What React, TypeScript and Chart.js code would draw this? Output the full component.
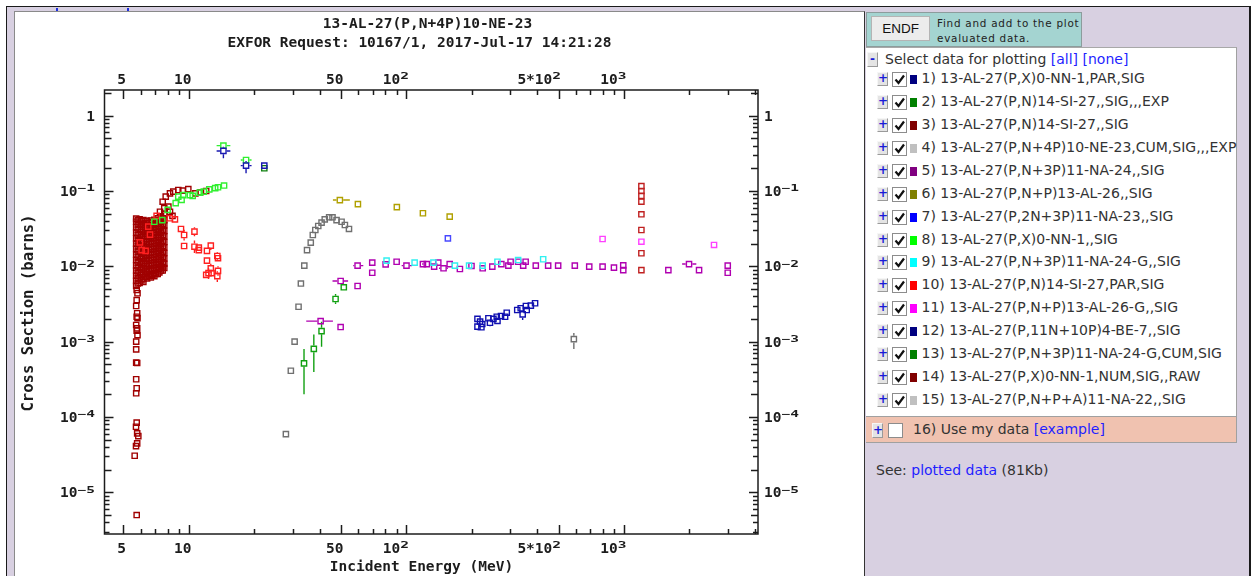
import React, { useEffect, useRef } from "react";
import { Chart, registerables } from "chart.js";
Chart.register(...registerables);

type P = (number | null)[];

// ---- axis ranges & ticks ----
const X_MIN = 4.09;
const X_MAX = 4130;
const Y_MIN = 2.79e-6;
const Y_MAX = 2.19;
const xTickValues = [5, 10, 50, 100, 500, 1000];
const xTickBase = ["5", "10", "50", "10", "5*10", "10"];
const xTickSup = ["", "", "", "2", "2", "3"];
const yTickValues = [1, 0.1, 0.01, 0.001, 1e-4, 1e-5];
const yTickBase = ["1", "10", "10", "10", "10", "10"];
const yTickSup = ["", "\u22121", "\u22122", "\u22123", "\u22124", "\u22125"];

const titleLine1 = "13-AL-27(P,N+4P)10-NE-23";
const titleLine2 = "EXFOR Request: 10167/1, 2017-Jul-17 14:21:28";
const xTitle = "Incident Energy (MeV)";
const yTitle = "Cross Section (barns)";

// ---- legend ----
const seriesNames = [
  "1) 13-AL-27(P,X)0-NN-1,PAR,SIG",
  "2) 13-AL-27(P,N)14-SI-27,,SIG,,,EXP",
  "3) 13-AL-27(P,N)14-SI-27,,SIG",
  "4) 13-AL-27(P,N+4P)10-NE-23,CUM,SIG,,,EXP",
  "5) 13-AL-27(P,N+3P)11-NA-24,,SIG",
  "6) 13-AL-27(P,N+P)13-AL-26,,SIG",
  "7) 13-AL-27(P,2N+3P)11-NA-23,,SIG",
  "8) 13-AL-27(P,X)0-NN-1,,SIG",
  "9) 13-AL-27(P,N+3P)11-NA-24-G,,SIG",
  "10) 13-AL-27(P,N)14-SI-27,PAR,SIG",
  "11) 13-AL-27(P,N+P)13-AL-26-G,,SIG",
  "12) 13-AL-27(P,11N+10P)4-BE-7,,SIG",
  "13) 13-AL-27(P,N+3P)11-NA-24-G,CUM,SIG",
  "14) 13-AL-27(P,X)0-NN-1,NUM,SIG,,RAW",
  "15) 13-AL-27(P,N+P+A)11-NA-22,,SIG",
];
const legendColors = [
  "#000080", "#008000", "#800000", "#c0c0c0", "#800080", "#808000", "#0000ff", "#00ff00",
  "#00ffff", "#ff0000", "#ff00ff", "#000080", "#008000", "#800000", "#c0c0c0",
];
const plotColors = [
  "#1818b0", "#108010", "#a00000", "#707070", "#b000b0", "#b0a000", "#4848ff", "#30f030",
  "#30f0f0", "#ff2020", "#ff40ff", "#1010b0", "#10a010", "#c02020", "#707070",
];
const drawOrder = [2, 3, 20, 5, 6, 5, 5, 4, 4, 8, 5, 5, 5, 6, 6];

// ---- data: [E (MeV), sigma (b), sigLo, sigHi, Elo, Ehi] ----
const s1: P[] = [
  [14.4, 0.34, 0.272, 0.387, 13.4, 15.5],
  [18.3, 0.217, 0.172, 0.25, 17.3, 19.4],
  [22.2, 0.217],
];
const s2: P[] = [[22.2, 0.2]];
const s3Cluster: P[] = [
  [5.72, 0.043], [5.72, 0.039], [5.72, 0.033], [5.72, 0.028], [5.72, 0.0235], [5.72, 0.02], [5.72, 0.017],
  [5.72, 0.0143], [5.72, 0.0121], [5.72, 0.0103], [5.72, 0.0088], [5.72, 0.0075], [5.72, 0.0064], [5.72, 0.0055],
  [5.82, 0.041], [5.82, 0.036], [5.82, 0.0305], [5.82, 0.0258], [5.82, 0.0217], [5.82, 0.0184], [5.82, 0.0156],
  [5.82, 0.0132], [5.82, 0.0112], [5.82, 0.0095], [5.82, 0.0081], [5.82, 0.0069], [5.82, 0.0059],
  [5.93, 0.042], [5.93, 0.037], [5.93, 0.0315], [5.93, 0.0265], [5.93, 0.0225], [5.93, 0.019], [5.93, 0.016],
  [5.93, 0.0136], [5.93, 0.0116], [5.93, 0.0098], [5.93, 0.0084], [5.93, 0.0071], [5.93, 0.006],
  [6.05, 0.0395], [6.05, 0.0335], [6.05, 0.0285], [6.05, 0.0242], [6.05, 0.0205], [6.05, 0.0174], [6.05, 0.0148],
  [6.05, 0.0125], [6.05, 0.0106], [6.05, 0.009], [6.05, 0.0076], [6.05, 0.0065],
  [6.17, 0.041], [6.17, 0.036], [6.17, 0.03], [6.17, 0.0255], [6.17, 0.0215], [6.17, 0.0183], [6.17, 0.0155],
  [6.17, 0.0131], [6.17, 0.0111], [6.17, 0.0094], [6.17, 0.008], [6.17, 0.0068], [6.17, 0.0062],
  [6.3, 0.0375], [6.3, 0.032], [6.3, 0.0272], [6.3, 0.023], [6.3, 0.0195], [6.3, 0.0166], [6.3, 0.014],
  [6.3, 0.0118], [6.3, 0.01], [6.3, 0.0085], [6.3, 0.0073],
  [6.42, 0.04], [6.42, 0.0345], [6.42, 0.029], [6.42, 0.0248], [6.42, 0.021], [6.42, 0.0177], [6.42, 0.015],
  [6.42, 0.0127], [6.42, 0.0107], [6.42, 0.0091], [6.42, 0.0078], [6.42, 0.0069],
  [6.55, 0.038], [6.55, 0.0322], [6.55, 0.0274], [6.55, 0.0231], [6.55, 0.0196], [6.55, 0.0166], [6.55, 0.0141],
  [6.55, 0.0119], [6.55, 0.0101], [6.55, 0.0086], [6.55, 0.0074],
  [6.68, 0.0405], [6.68, 0.035], [6.68, 0.0298], [6.68, 0.0252], [6.68, 0.0213], [6.68, 0.018], [6.68, 0.0153],
  [6.68, 0.0129], [6.68, 0.0109], [6.68, 0.0093], [6.68, 0.0079], [6.68, 0.0071],
  [6.8, 0.0385], [6.8, 0.0328], [6.8, 0.0278], [6.8, 0.0236], [6.8, 0.02], [6.8, 0.0169], [6.8, 0.0143],
  [6.8, 0.0121], [6.8, 0.0103], [6.8, 0.0088], [6.8, 0.0077],
  [6.93, 0.0415], [6.93, 0.036], [6.93, 0.0305], [6.93, 0.0258], [6.93, 0.0218], [6.93, 0.0184], [6.93, 0.0156],
  [6.93, 0.0132], [6.93, 0.0112], [6.93, 0.0095], [6.93, 0.0082], [6.93, 0.0074],
  [7.05, 0.039], [7.05, 0.0335], [7.05, 0.0283], [7.05, 0.024], [7.05, 0.0203], [7.05, 0.0172], [7.05, 0.0146],
  [7.05, 0.0124], [7.05, 0.0105], [7.05, 0.009], [7.05, 0.0079],
  [7.18, 0.0435], [7.18, 0.037], [7.18, 0.031], [7.18, 0.0262], [7.18, 0.0222], [7.18, 0.0188], [7.18, 0.0159],
  [7.18, 0.0135], [7.18, 0.0114], [7.18, 0.0097], [7.18, 0.0079],
  [7.31, 0.041], [7.31, 0.0345], [7.31, 0.029], [7.31, 0.0246], [7.31, 0.0209], [7.31, 0.0176], [7.31, 0.015],
  [7.31, 0.0127], [7.31, 0.0107], [7.31, 0.0093], [7.31, 0.0083],
  [7.44, 0.046], [7.44, 0.039], [7.44, 0.033], [7.44, 0.028], [7.44, 0.0236], [7.44, 0.02], [7.44, 0.0168],
  [7.44, 0.0142], [7.44, 0.012], [7.44, 0.0101], [7.44, 0.0088],
  [7.57, 0.0435], [7.57, 0.0365], [7.57, 0.0305], [7.57, 0.026], [7.57, 0.0218], [7.57, 0.0185], [7.57, 0.0157],
  [7.57, 0.0133], [7.57, 0.0112], [7.57, 0.0097], [7.57, 0.0088],
  [7.7, 0.049], [7.7, 0.041], [7.7, 0.035], [7.7, 0.0295], [7.7, 0.025], [7.7, 0.021], [7.7, 0.0178],
  [7.7, 0.015], [7.7, 0.0127], [7.7, 0.0108], [7.7, 0.0095],
];
const s3Column: P[] = [
  [5.75, 4.84e-3], [5.8, 4.38e-3], [5.75, 3.56e-3], [5.72, 2.97e-3], [5.78, 2.38e-3], [5.75, 2.14e-3],
  [5.8, 2.05e-3], [5.72, 1.66e-3], [5.78, 1.5e-3], [5.75, 1.4e-3], [5.8, 1.22e-3], [5.72, 1.0e-3],
  [5.72, 7.9e-4], [5.72, 5.25e-4], [5.78, 5.2e-4], [5.72, 3.16e-4], [5.75, 2.4e-4], [5.72, 2.06e-4],
  [5.75, 8.4e-5], [5.71, 7.4e-5], [5.78, 6.05e-5], [5.85, 5.57e-5], [5.78, 4.46e-5], [5.71, 4.1e-5],
  [5.63, 3.05e-5], [5.75, 4.98e-6],
];
const s3Chain: P[] = [
  [7.57, 0.072], [7.7, 0.059], [7.36, 0.053], [8.18, 0.053], [8.04, 0.062], [8.4, 0.0466],
  [7.82, 0.084], [8.18, 0.093], [8.47, 0.098], [8.93, 0.103], [9.36, 0.101], [9.93, 0.106],
  [10.7, 0.093], [11.3, 0.096], [12.0, 0.1],
];
const s4: P[] = [[588, 1.08e-3, 7.98e-4, 1.3e-3]];
const s5: P[] = [
  [40.3, 1.87e-3, null, null, 34.6, 45.9], [49.8, 1.56e-3], [49.8, 6.38e-3, null, null, 45.7, 53.9],
  [59.6, 5.47e-3], [59.6, 0.0102, null, null, 56.9, 63.3], [69.6, 0.0112], [69.6, 0.0082], [80.2, 0.0106],
  [90.1, 0.0115], [100, 0.0102, null, null, 95, 106], [119, 0.0107], [124, 0.0107, null, null, 118, 131],
  [134, 0.0099], [140, 0.0112], [148, 0.0094, null, null, 141, 155], [158, 0.0107], [176, 0.0092],
  [199, 0.0101], [224, 0.0094], [248, 0.0099], [273, 0.0107], [294, 0.0102], [301, 0.0115], [326, 0.0115],
  [344, 0.0102], [353, 0.0115], [393, 0.0102], [448, 0.0102], [498, 0.0102], [594, 0.0102], [692, 0.0099],
  [797, 0.0099], [899, 0.0096], [992, 0.0103], [992, 0.0089], [1599, 0.0089],
  [1990, 0.0107, null, null, 1850, 2150], [2213, 0.0089], [2998, 0.0102], [2998, 0.0082],
];
const s6: P[] = [
  [49.4, 0.0757, 0.071, 0.08, 45.9, 54.9], [59.8, 0.067, 0.062, 0.072], [90.3, 0.061, 0.057, 0.065],
  [119, 0.0506, 0.047, 0.054], [158, 0.0456, 0.042, 0.049],
];
const s7: P[] = [[155, 0.0235]];
const s8: P[] = [
  [14.4, 0.4, 0.37, 0.44, 13.4, 15.5], [18.3, 0.258, 0.24, 0.28, 17.3, 19.4],
  [6.93, 0.039], [7.54, 0.041], [7.98, 0.056], [8.69, 0.069], [8.93, 0.084], [9.25, 0.076], [9.41, 0.088],
  [10.1, 0.088], [10.4, 0.086], [11.2, 0.095], [11.7, 0.098], [12.4, 0.105], [13.2, 0.109], [13.6, 0.112],
  [14.5, 0.118],
];
const s9: P[] = [
  [81, 0.0119], [109, 0.0112], [133, 0.0112], [167, 0.0102], [194, 0.0102], [224, 0.0102], [262, 0.0115],
  [326, 0.0121], [425, 0.0124],
];
const s10: P[] = [
  [5.95, 0.0208], [6.06, 0.0164], [6.32, 0.016], [6.5, 0.0336], [6.62, 0.0263], [7.1, 0.0466], [8.18, 0.0434],
  [8.62, 0.042], [9.19, 0.0313], [9.5, 0.026, 0.022, 0.0305], [9.5, 0.0186], [10.6, 0.0288, 0.025, 0.033],
  [10.6, 0.0182, 0.015, 0.022], [11.1, 0.0164], [11.1, 0.0177], [12.1, 0.016], [12.6, 0.0188, 0.0165, 0.021],
  [12.1, 0.0119], [12.6, 0.0094, 0.0082, 0.0108], [12.3, 0.0081, 0.0068, 0.0095], [12.7, 0.0081],
  [13.5, 0.0137, 0.012, 0.0155], [13.6, 0.0128], [13.6, 0.0087, 0.0075, 0.01], [13.5, 0.0074, 0.0062, 0.0086],
  [12.0, 0.0077],
];
const s11: P[] = [[797, 0.023, 0.0215, 0.0245], [1202, 0.0212, 0.0198, 0.0226], [2593, 0.0192, 0.0178, 0.0208]];
const s12: P[] = [
  [212, 2.0e-3], [212, 1.58e-3, 1.42e-3, 1.75e-3], [218, 1.84e-3], [223, 1.71e-3, 1.55e-3, 1.9e-3],
  [221, 1.55e-3, 1.4e-3, 1.72e-3], [238, 2.04e-3], [242, 1.78e-3, 1.6e-3, 1.98e-3], [251, 2.0e-3],
  [262, 1.88e-3, 1.7e-3, 2.08e-3], [260, 2.14e-3], [272, 2.19e-3], [284, 2.14e-3], [289, 2.42e-3],
  [323, 2.63e-3], [335, 2.77e-3], [342, 2.3e-3, 1.93e-3, 2.5e-3], [354, 2.97e-3], [357, 2.63e-3],
  [373, 3.0e-3], [390, 3.23e-3],
];
const s13: P[] = [
  [33.8, 5.15e-4, 2.0e-4, 8.0e-4], [37.5, 8.0e-4, 3.96e-4, 1.24e-3], [40.7, 1.38e-3, 8.55e-4, 1.84e-3],
  [47.2, 3.68e-3, 3.16e-3, 4.29e-3], [51.5, 5.26e-3, 4.8e-3, 5.77e-3],
];
const s14: P[] = [
  [1202, 0.116], [1202, 0.1], [1202, 0.086], [1202, 0.072], [1202, 0.049], [1202, 0.0303], [1202, 0.0149],
  [1202, 0.0089],
];
const s15: P[] = [
  [27.9, 5.9e-5], [29.4, 4.1e-4], [30.6, 1.0e-3], [31.9, 2.9e-3], [32.7, 5.9e-3], [33.9, 0.0102],
  [34.9, 0.0164], [36.3, 0.0206], [37.1, 0.026], [38.1, 0.0303], [39.3, 0.0343], [40.7, 0.038],
  [42.1, 0.042], [44.1, 0.0447], [45.7, 0.0447], [47.7, 0.041], [50.3, 0.039], [52.1, 0.0353], [54.4, 0.0313],
];

const allSeries: P[][] = [
  s1, s2, [...s3Cluster, ...s3Column, ...s3Chain], s4, s5, s6, s7, s8, s9, s10, s11, s12, s13, s14, s15,
];

const MAIN_FONT = 'bold 14.5px "DejaVu Sans Mono"';
const YTITLE_FONT = 'bold 15.6px "DejaVu Sans Mono"';
const INK = "#1c1c1c";

function drawLabel(ctx: CanvasRenderingContext2D, base: string, sup: string, x: number, baseline: number, align: "left" | "right") {
  ctx.font = MAIN_FONT;
  const bw = ctx.measureText(base).width;
  const sw = sup ? ctx.measureText(sup).width : 0;
  const start = align === "right" ? x - bw - sw : x;
  ctx.textAlign = "left";
  ctx.textBaseline = "alphabetic";
  ctx.fillText(base, start, baseline);
  if (sup) {
    ctx.save();
    ctx.translate(start + bw, baseline - 4.5);
    ctx.scale(1, 0.6);
    ctx.fillText(sup, 0, 0);
    ctx.restore();
  }
}

const errorBarPlugin = {
  id: "errbars",
  beforeDatasetsDraw(chart: any) {
    const { ctx, chartArea: a } = chart;
    const xs = chart.scales.x;
    const ys = chart.scales.y;
    ctx.save();
    ctx.beginPath();
    ctx.rect(a.left, a.top, a.right - a.left, a.bottom - a.top);
    ctx.clip();
    ctx.lineWidth = 1.4;
    allSeries.forEach((ser, i) => {
      ctx.strokeStyle = plotColors[i];
      ctx.beginPath();
      const h = 3.3;
      ser.forEach((p) => {
        const px = xs.getPixelForValue(p[0] as number);
        const py = ys.getPixelForValue(p[1] as number);
        if (p[2] != null && p[3] != null) {
          const yl = ys.getPixelForValue(p[2] as number);
          const yh = ys.getPixelForValue(p[3] as number);
          if (yh < py - h) { ctx.moveTo(px, yh); ctx.lineTo(px, py - h); }
          if (yl > py + h) { ctx.moveTo(px, py + h); ctx.lineTo(px, yl); }
        }
        if (p[4] != null && p[5] != null) {
          const xl = xs.getPixelForValue(p[4] as number);
          const xh = xs.getPixelForValue(p[5] as number);
          if (xl < px - h) { ctx.moveTo(xl, py); ctx.lineTo(px - h, py); }
          if (xh > px + h) { ctx.moveTo(px + h, py); ctx.lineTo(xh, py); }
        }
      });
      ctx.stroke();
    });
    ctx.restore();
  },
};

const axesPlugin = {
  id: "exforAxes",
  afterDatasetsDraw(chart: any) {
    const { ctx, chartArea: a } = chart;
    const xs = chart.scales.x;
    const ys = chart.scales.y;
    ctx.save();
    ctx.strokeStyle = INK;
    ctx.lineWidth = 1.5;
    ctx.strokeRect(a.left, a.top, a.right - a.left, a.bottom - a.top);
    ctx.beginPath();
    for (const d of [1, 10, 100, 1000]) {
      for (let k = 1; k <= 9; k++) {
        const v = d * k;
        if (v < X_MIN || v > X_MAX) continue;
        const px = Math.round(xs.getPixelForValue(v)) + 0.5;
        const len = k === 1 || k === 5 ? 9 : 5;
        ctx.moveTo(px, a.top); ctx.lineTo(px, a.top + len);
        ctx.moveTo(px, a.bottom); ctx.lineTo(px, a.bottom - len);
      }
    }
    for (let e = -6; e <= 0; e++) {
      for (let k = 1; k <= 9; k++) {
        const v = k * Math.pow(10, e);
        if (v < Y_MIN || v > Y_MAX) continue;
        const py = Math.round(ys.getPixelForValue(v)) + 0.5;
        const len = k === 1 ? 9 : k === 2 || k === 5 ? 7 : 5;
        ctx.moveTo(a.left, py); ctx.lineTo(a.left + len, py);
        ctx.moveTo(a.right, py); ctx.lineTo(a.right - len, py);
      }
    }
    ctx.stroke();

    ctx.fillStyle = INK;
    xTickValues.forEach((v, i) => {
      const px = xs.getPixelForValue(v) + 2.5;
      drawLabel(ctx, xTickBase[i], xTickSup[i], px, a.top - 6.2, "right");
      drawLabel(ctx, xTickBase[i], xTickSup[i], px, a.bottom + 18.7, "right");
    });
    yTickValues.forEach((v, i) => {
      const py = ys.getPixelForValue(v) + 5;
      drawLabel(ctx, yTickBase[i], yTickSup[i], a.left - 9.5, py, "right");
      drawLabel(ctx, yTickBase[i], yTickSup[i], a.right + 6, py, "left");
    });

    ctx.font = MAIN_FONT;
    ctx.textAlign = "center";
    ctx.textBaseline = "alphabetic";
    ctx.fillText(titleLine1, 412.5, 16.3);
    ctx.fillText(titleLine2, 404.5, 34.7);
    ctx.fillText(xTitle, 406.5, 558.7);
    ctx.save();
    ctx.font = YTITLE_FONT;
    ctx.translate(18.3, 301);
    ctx.rotate(-Math.PI / 2);
    ctx.fillText(yTitle, 0, 0);
    ctx.restore();
    ctx.restore();
  },
};

function CheckBox({ left, top, checked }: { left: number; top: number; checked: boolean }) {
  return (
    <div style={{ position: "absolute", left, top, width: 15, height: 15, boxSizing: "border-box", background: "#fff", border: "1px solid #8c8c8c" }}>
      {checked && (
        <svg width="13" height="13" style={{ position: "absolute", left: 0, top: 0 }}>
          <path d="M2.5 6.5 L5.5 10 L11 2.5" stroke="#111" strokeWidth="2.2" fill="none" />
        </svg>
      )}
    </div>
  );
}

function SmallBtn({ left, top, w, h, sign }: { left: number; top: number; w: number; h: number; sign: string }) {
  return (
    <div
      style={{
        position: "absolute", left, top, width: w, height: h, boxSizing: "border-box", background: "#e4e4e4",
        borderTop: "1px solid #f6f6f6", borderLeft: "1px solid #f6f6f6", borderRight: "1px solid #9a9a9a",
        borderBottom: "1px solid #9a9a9a", color: "#1a1ad8", font: 'bold 12px "DejaVu Sans"',
        lineHeight: `${h - 3}px`, textAlign: "center",
      }}
    >
      {sign}
    </div>
  );
}

const LAV = "#d8d0e1";
const TEXT = "#333";
const LINK = "#1f1fff";
const PANEL_FONT = '14px "DejaVu Sans"';

export default function App() {
  const canvasRef = useRef<HTMLCanvasElement>(null);

  useEffect(() => {
    const datasets = allSeries.map((ser, i) => ({
      label: seriesNames[i],
      data: ser.map((p) => ({ x: p[0] as number, y: p[1] as number })),
      borderColor: plotColors[i],
      backgroundColor: "rgba(0,0,0,0)",
      pointStyle: "rect",
      pointRadius: 3.7,
      pointBorderWidth: 1.4,
      pointBorderColor: plotColors[i],
      pointBackgroundColor: "rgba(0,0,0,0)",
      showLine: false,
      order: drawOrder[i],
    }));
    const chart = new Chart(canvasRef.current as HTMLCanvasElement, {
      type: "scatter",
      data: { datasets } as any,
      options: {
        animation: false,
        responsive: false,
        devicePixelRatio: 1,
        events: [],
        layout: { padding: { left: 89.5, top: 78, right: 106, bottom: 42 } },
        scales: {
          x: { type: "logarithmic", display: false, min: X_MIN, max: X_MAX, bounds: "data" } as any,
          y: { type: "logarithmic", display: false, min: Y_MIN, max: Y_MAX, bounds: "data" } as any,
        },
        plugins: { legend: { display: false }, tooltip: { enabled: false } },
      },
      plugins: [errorBarPlugin, axesPlugin],
    });
    return () => chart.destroy();
  }, []);

  const rowCenter = (i: number) => 79 + 22.93 * i;

  return (
    <div style={{ position: "absolute", left: 0, top: 0, width: 1257, height: 576, overflow: "hidden", background: "#fff" }}>
      {/* outer frame */}
      <div style={{ position: "absolute", left: 6, top: 6, width: 1245, height: 600, boxSizing: "border-box", background: LAV, borderTop: "1.5px solid #1a1a1a", borderLeft: "1.5px solid #1a1a1a", borderRight: "2px solid #1a1a1a" }} />
      <div style={{ position: "absolute", left: 56, top: 8, width: 2, height: 3, background: "#2030e0" }} />
      <div style={{ position: "absolute", left: 127, top: 8, width: 2, height: 3, background: "#2030e0" }} />
      {/* chart panel */}
      <div style={{ position: "absolute", left: 14, top: 11, width: 851, height: 600, boxSizing: "border-box", background: "#fff", borderTop: "1px solid #8a8a8a", borderLeft: "1px solid #8a8a8a", borderRight: "1px solid #333" }} />
      <canvas ref={canvasRef} width={849} height={564} style={{ position: "absolute", left: 15, top: 12, width: 849, height: 564 }} />

      {/* ENDF box */}
      <div style={{ position: "absolute", left: 866, top: 12, width: 216, height: 35, boxSizing: "border-box", background: "#a4d4d1", border: "1px solid #8c9c9c" }} />
      <div style={{ position: "absolute", left: 871, top: 16, width: 59, height: 25, boxSizing: "border-box", background: "#ececec", border: "1px solid #b4b4b4", font: '13.5px "Liberation Sans"', color: "#111", lineHeight: "23px", textAlign: "center" }}>ENDF</div>
      <div style={{ position: "absolute", left: 937, top: 16, font: '10.4px "DejaVu Sans"', letterSpacing: "0.75px", color: "#222", lineHeight: "14.5px", whiteSpace: "nowrap" }}>
        Find and add to the plot
        <br />
        evaluated data.
      </div>

      {/* list box */}
      <div style={{ position: "absolute", left: 866, top: 47, width: 371, height: 370, boxSizing: "border-box", background: "#fff", borderTop: "1px solid #a8a8a8", borderRight: "1px solid #a0a0a0", borderBottom: "1px solid #a0a0a0" }} />
      <SmallBtn left={867} top={52} w={11} h={15} sign="-" />
      <div style={{ position: "absolute", left: 885, top: 50.5, height: 23, lineHeight: "23px", font: PANEL_FONT, color: TEXT, whiteSpace: "nowrap" }}>
        Select data for plotting <span style={{ color: LINK }}>[all]</span> <span style={{ color: LINK }}>[none]</span>
      </div>
      {seriesNames.map((name, i) => {
        const c = rowCenter(i);
        return (
          <React.Fragment key={i}>
            <SmallBtn left={877} top={Math.round(c - 7)} w={11} h={14} sign="+" />
            <CheckBox left={892} top={Math.round(c - 7)} checked={true} />
            <div style={{ position: "absolute", left: 910, top: Math.round(c - 4), width: 7, height: 9, background: legendColors[i] }} />
            <div style={{ position: "absolute", left: 921.5, top: c - 9, height: 23, lineHeight: "23px", font: PANEL_FONT, color: TEXT, whiteSpace: "nowrap" }}>{name}</div>
          </React.Fragment>
        );
      })}

      {/* user data row */}
      <div style={{ position: "absolute", left: 866, top: 417, width: 371, height: 26, boxSizing: "border-box", background: "#f0c2b0", borderRight: "1px solid #a0a0a0", borderBottom: "1px solid #a0a0a0" }} />
      <SmallBtn left={872} top={423} w={11} h={15} sign="+" />
      <CheckBox left={888} top={423} checked={false} />
      <div style={{ position: "absolute", left: 913, top: 421, height: 23, lineHeight: "23px", font: PANEL_FONT, color: TEXT, whiteSpace: "nowrap" }}>
        16) Use my data <span style={{ color: LINK }}>[example]</span>
      </div>

      <div style={{ position: "absolute", left: 876, top: 461.5, height: 23, lineHeight: "23px", font: PANEL_FONT, color: TEXT, whiteSpace: "nowrap" }}>
        See: <span style={{ color: LINK }}>plotted data</span> (81Kb)
      </div>
    </div>
  );
}
